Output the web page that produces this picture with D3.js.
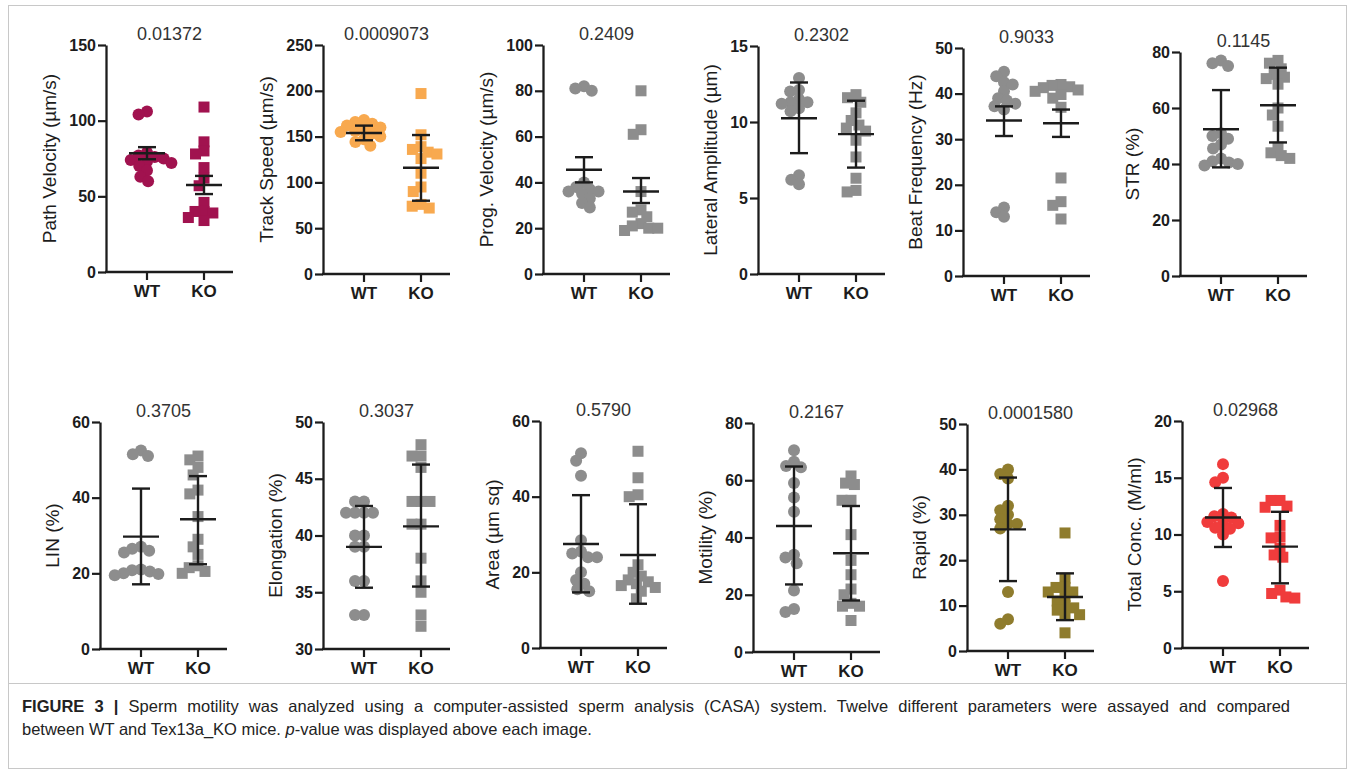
<!DOCTYPE html>
<html><head><meta charset="utf-8">
<script src="https://cdn.jsdelivr.net/npm/d3@7"></script>
<style>
body{margin:0;background:#fff;}
svg{display:block;}
text{font-family:Arial,"Liberation Sans",Helvetica,sans-serif;}
</style>
</head><body>
<svg id="chart" width="1355" height="775"></svg>
<script>
// ---------------- data ----------------
const groups = ["WT", "KO"];
const titles = ["0.01372","0.0009073","0.2409","0.2302","0.9033","0.1145","0.3705","0.3037","0.5790","0.2167","0.0001580","0.02968"];
const yLabels = ["Path Velocity (µm/s)","Track Speed (µm/s)","Prog. Velocity (µm/s)","Lateral Amplitude (µm)","Beat Frequency (Hz)","STR (%)","LIN (%)","Elongation (%)","Area (µm sq)","Motility (%)","Rapid (%)","Total Conc. (M/ml)"];
const yDomains = [[0,150],[0,250],[0,100],[0,15],[0,50],[0,80],[0,60],[30,50],[0,60],[0,80],[0,50],[0,20]];
const yTicks = [[0,50,100,150],[0,50,100,150,200,250],[0,20,40,60,80,100],[0,5,10,15],[0,10,20,30,40,50],[0,20,40,60,80],[0,20,40,60],[30,35,40,45,50],[0,20,40,60],[0,20,40,60,80],[0,10,20,30,40,50],[0,5,10,15,20]];
const colors = ["#a1124f","#f8a94f","#8d8d8d","#8d8d8d","#8d8d8d","#8d8d8d","#8d8d8d","#8d8d8d","#8d8d8d","#8d8d8d","#8f7c2d","#f03c3c"];

const wtValues = [
  [106,104,79,77,76,75,74,73,72,70,67,63,60],
  [168,166,164,162,160,158,156,155,153,150,147,144,140],
  [82,81,80,40,38,37,36,36,35,33,31,29],
  [12.9,12.1,12.0,11.5,11.3,11.3,11.2,10.9,10.7,6.5,6.2,5.9],
  [44.8,43.8,42.5,42,40.5,39,38.5,37.8,37.2,36.5,15,14,13],
  [77,76,75,51,50,49,47,45.5,42,41,40.5,40,39.5],
  [52.5,51.5,51,27,26.5,26,25.5,21,20.8,20.5,20,19.8,19.5],
  [43,43,42,42,42,42,40,40,39,39,36,36,33,33],
  [51.5,49.5,45.5,28.5,25.5,25,24,24,20,18,17,15.5,15],
  [70.5,66.5,65,64.5,59,54,49,34,33,31,21.5,15,14],
  [40,39,38,32,31,30,29,28,28,27,13,7,6],
  [16.2,15,14.6,11.8,11.6,11.5,11.1,11,11,10.6,10.5,10,5.9]
];
const koValues = [
  [109,86,80,78,69,62,57,46,40,40,39,36,34],
  [197,152,139,136,133,131,126,110,95,90,76,74,72],
  [80,63,61,36,28,27,25,22,21,20,20,19],
  [11.8,11.6,11.3,10.6,10.1,9.8,9.6,9.4,8.8,7.7,6.3,5.5,5.4],
  [42,41.8,41.5,41.3,40.8,40.5,39.8,39,37,21.5,16.3,15.5,12.5],
  [77,76,74,72,71,70.5,68.5,60,57.5,53.5,46,44,43,42],
  [51,50,48,46,42,41,35,29,27,25,22,21.5,20.5,20],
  [48,47,47,46,43,43,43,41,41,38,36,35,33,32],
  [52,45,40.5,40,22,20,19,18,17.5,17,16.5,16,15,13],
  [61.5,59,58.5,53,53,41,32,27,22,20,17,16,16,11],
  [26,16,14,14,13,13,12,11,10,9.5,9,8,8,4],
  [13,13,12.5,12.4,10.8,9.8,9.7,8.8,8.2,8,5.1,4.8,4.5,4.4]
];
// error bars: mean, lower, upper
const wtMean = [78.5,154,45.5,10.25,34.1,52.4,29.7,39.0,27.5,44,26.8,11.5];
const wtLow  = [74.5,146,40,7.95,30.7,38.8,17.1,35.4,14.7,23.6,15.4,8.9];
const wtHigh = [82.5,162,51,12.6,37.2,66.4,42.4,42.6,40.4,64.8,38.2,14.1];
const koMean = [57.5,116,36,9.2,33.5,61,34.3,40.8,24.6,34.5,11.9,8.93];
const koLow  = [51.5,80,31,7.0,30.5,47.7,22.4,35.5,11.7,18,6.8,5.7];
const koHigh = [63.5,151.7,41.9,11.4,36.5,74.4,45.7,46.25,38,51,17.1,12];

const captionBold = "FIGURE 3 |";
const captionLine1 = " Sperm motility was analyzed using a computer-assisted sperm analysis (CASA) system. Twelve different parameters were assayed and compared";
const captionLine2a = "between WT and Tex13a_KO mice. ";
const captionLine2b = "p";
const captionLine2c = "-value was displayed above each image.";

// ---------------- layout ----------------
const axisX = [106,323,543,758,963,1180,100,323,540,753,967,1182];
const plotTop = [45,45,45,46,48,52,422,422,421,423,424,421];
const plotBottom = [272,274,274,274,276,276,649,649,648,652,651,648];
const plotW = 127, wtOff = 41, koOff = 98;

const svg = d3.select("#chart");
const ink = "#1c1c1c";

// frame
svg.append("rect").attr("x",8.5).attr("y",5.5).attr("width",1338).attr("height",763)
  .attr("fill","none").attr("stroke","#c8c8c8").attr("stroke-width",1);
svg.append("line").attr("x1",8.5).attr("x2",1346.5).attr("y1",683.5).attr("y2",683.5)
  .attr("stroke","#c8c8c8").attr("stroke-width",1);

function swarm(vals, y, sep) {
  const pts = vals.map(v => ({v, py: y(v)})).sort((a,b) => a.py - b.py);
  const placed = [];
  for (const p of pts) {
    const forb = [];
    for (const q of placed) {
      const dy = p.py - q.py;
      if (Math.abs(dy) < sep) { const h = Math.sqrt(sep*sep - dy*dy); forb.push([q.dx - h, q.dx + h]); }
    }
    const cands = [0];
    forb.forEach(f => cands.push(f[0], f[1]));
    cands.sort((a,b) => Math.abs(a) - Math.abs(b));
    let dx = 0;
    for (const c of cands) {
      if (forb.every(f => c <= f[0] + 1e-6 || c >= f[1] - 1e-6)) { dx = c; break; }
    }
    p.dx = dx; placed.push(p);
  }
  return placed;
}

titles.forEach((t, i) => {
  const ax = axisX[i];
  const y = d3.scaleLinear().domain(yDomains[i]).range([plotBottom[i], plotTop[i]]);
  const x = d3.scaleOrdinal().domain(groups).range([ax + wtOff, ax + koOff]);
  const g = svg.append("g");

  // y axis
  const yAx = g.append("g").attr("transform", `translate(${ax},0)`)
    .call(d3.axisLeft(y).tickValues(yTicks[i]).tickSize(8).tickSizeOuter(0).tickPadding(2));
  yAx.select(".domain").attr("stroke", ink).attr("stroke-width", 2.3);
  yAx.selectAll(".tick line").attr("stroke", ink).attr("stroke-width", 2.2);
  yAx.selectAll(".tick text").attr("fill", ink).style("font-size","16px").style("font-weight","bold")
    .style("font-family","Arial, 'Liberation Sans', sans-serif");

  // x axis
  const y0 = plotBottom[i];
  g.append("line").attr("x1", ax - 1).attr("x2", ax + plotW).attr("y1", y0).attr("y2", y0)
    .attr("stroke", ink).attr("stroke-width", 2.3);
  groups.forEach(k => {
    g.append("line").attr("x1", x(k)).attr("x2", x(k)).attr("y1", y0).attr("y2", y0 + 8)
      .attr("stroke", ink).attr("stroke-width", 2.2);
    g.append("text").attr("x", x(k)).attr("y", y0 + 25).attr("text-anchor","middle")
      .attr("fill", ink).style("font-size","17px").style("font-weight","bold").text(k);
  });

  // y label
  const maxLen = d3.max(yTicks[i], d => String(d).length);
  const lx = ax - (30 + maxLen * 9);
  const ly = (plotTop[i] + plotBottom[i]) / 2;
  g.append("text").attr("transform", `translate(${lx},${ly}) rotate(-90)`)
    .attr("text-anchor","middle").attr("dy","0.35em").attr("fill", ink)
    .style("font-size","19px").text(yLabels[i]);

  // title
  g.append("text").attr("x", ax + plotW/2).attr("y", plotTop[i] - 5).attr("text-anchor","middle")
    .attr("fill","#333").style("font-size","18px").text(t);

  // points
  const wt = swarm(wtValues[i], y, 9);
  g.selectAll(".wt").data(wt).enter().append("circle")
    .attr("cx", d => x("WT") + d.dx).attr("cy", d => d.py).attr("r", 6).attr("fill", colors[i]);
  const ko = swarm(koValues[i], y, 9);
  const s = 11;
  g.selectAll(".ko").data(ko).enter().append("rect")
    .attr("x", d => x("KO") + d.dx - s/2).attr("y", d => d.py - s/2).attr("width", s).attr("height", s)
    .attr("fill", colors[i]);

  // error bars
  const bars = [["WT", wtMean[i], wtLow[i], wtHigh[i]], ["KO", koMean[i], koLow[i], koHigh[i]]];
  bars.forEach(([k, m, lo, hi]) => {
    const cx = x(k);
    g.append("line").attr("x1", cx).attr("x2", cx).attr("y1", y(lo)).attr("y2", y(hi))
      .attr("stroke", ink).attr("stroke-width", 2.4);
    g.append("line").attr("x1", cx - 18).attr("x2", cx + 18).attr("y1", y(m)).attr("y2", y(m))
      .attr("stroke", ink).attr("stroke-width", 2.4);
    [lo, hi].forEach(v => g.append("line").attr("x1", cx - 9).attr("x2", cx + 9)
      .attr("y1", y(v)).attr("y2", y(v)).attr("stroke", ink).attr("stroke-width", 2.4));
  });
});

// caption (first line justified to the frame width)
const capSize = "16.5px";
const cap = svg.append("text").attr("x", 22).attr("y", 712).attr("fill","#222").style("font-size",capSize);
cap.append("tspan").style("font-weight","bold").text(captionBold);
cap.append("tspan").text(captionLine1);
const natural = cap.node().getComputedTextLength();
const nSpaces = (captionBold + captionLine1).split(" ").length - 1;
const target = 1290 - 22;
if (natural < target) cap.style("word-spacing", ((target - natural) / nSpaces) + "px");
const cap2 = svg.append("text").attr("x", 22).attr("y", 735).attr("fill","#222").style("font-size",capSize);
cap2.append("tspan").text(captionLine2a);
cap2.append("tspan").style("font-style","italic").text(captionLine2b);
cap2.append("tspan").text(captionLine2c);
</script>
</body></html>
